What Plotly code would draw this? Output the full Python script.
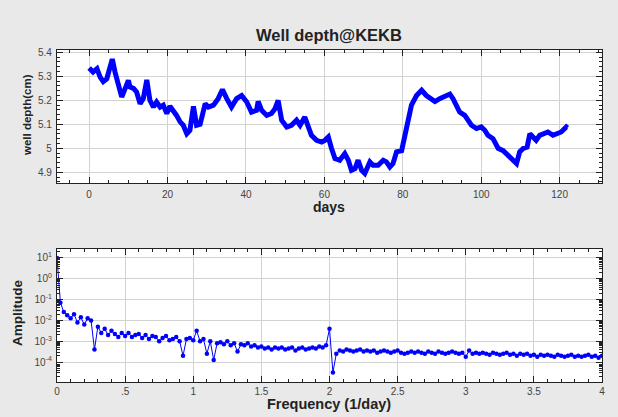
import plotly.graph_objects as go

# ---------------- data ----------------
days = [0, 1, 1.5, 2, 2.8, 3.6, 4.5, 5.3, 5.9, 6.6,
        7.5, 8.3, 9.2, 10, 10.4, 11.3, 12.1, 13, 13.8, 14.7,
        15.5, 16.4, 17.2, 18.1, 18.9, 19.8, 20.6, 21.5, 22.3, 23.2,
        24, 24.9, 25.7, 26.6, 27.4, 28.3, 29.6, 30.4, 31.7, 32.9,
        34, 35.1, 36.3, 37.6, 38.9, 40.2, 41.4, 42.7, 43.1, 44,
        45.3, 46.5, 47.4, 48.2, 49.1, 50.4, 51.6, 52.9, 53.8, 55,
        55.9, 56.7, 58, 59.3, 60.1, 61, 61.8, 62.7, 63.9, 65.2,
        66.1, 66.9, 67.8, 68.6, 69.5, 70.3, 71.6, 72.4, 73.7, 75,
        75.8, 76.7, 77.5, 78.4, 79.7, 80.5, 81.4, 82.2, 83.5, 84.8,
        86, 87.3, 88.2, 89.4, 90.7, 92, 92.8, 93.7, 94.5, 95.8,
        96.6, 97.5, 98.8, 100, 100.9, 101.7, 103, 104.3, 105.6, 106.8,
        108.1, 109, 109.8, 110.7, 111.7, 112.4, 113.2, 114, 114.9, 116.2,
        117, 118.3, 119.6, 120.4, 121.7, 122]

well_depth = [5.335, 5.318, 5.325, 5.332, 5.297, 5.278, 5.290, 5.335, 5.372, 5.318,
              5.250, 5.214, 5.250, 5.283, 5.256, 5.250, 5.235, 5.186, 5.207, 5.285,
              5.200, 5.172, 5.193, 5.172, 5.180, 5.145, 5.175, 5.158, 5.137, 5.110,
              5.096, 5.061, 5.075, 5.175, 5.096, 5.100, 5.186, 5.172, 5.180, 5.207,
              5.245, 5.207, 5.172, 5.207, 5.220, 5.193, 5.151, 5.158, 5.195, 5.158,
              5.137, 5.145, 5.165, 5.200, 5.117, 5.089, 5.096, 5.117, 5.096, 5.130,
              5.089, 5.054, 5.033, 5.026, 5.033, 5.047, 5.000, 4.957, 4.950, 4.978,
              4.950, 4.908, 4.915, 4.950, 4.908, 4.895, 4.943, 4.929, 4.929, 4.950,
              4.943, 4.922, 4.936, 4.985, 4.990, 5.054, 5.124, 5.180, 5.220, 5.242,
              5.220, 5.207, 5.195, 5.207, 5.214, 5.226, 5.207, 5.172, 5.151, 5.137,
              5.117, 5.096, 5.082, 5.089, 5.075, 5.054, 5.040, 5.000, 4.990, 4.970,
              4.950, 4.936, 4.985, 4.999, 5.005, 5.061, 5.047, 5.033, 5.054, 5.061,
              5.068, 5.054, 5.061, 5.068, 5.089, 5.085]

# FFT amplitude, stored as log10(amplitude), one value every 0.025 1/day from 0 to 4
amp_log10 = [1.0, -1.15, -1.6, -1.75, -1.9, -1.7, -2.1, -1.85, -2.2, -1.9,
             -2.0, -3.4, -2.3, -2.6, -2.4, -2.7, -2.5, -2.65, -2.8, -2.6,
             -2.75, -2.6, -2.8, -2.7, -2.65, -2.85, -2.7, -2.9, -2.75, -2.8,
             -3.0, -2.85, -2.75, -2.95, -2.9, -2.8, -3.0, -3.7, -2.9, -2.85,
             -2.95, -2.5, -3.0, -2.9, -3.6, -3.0, -3.9, -3.1, -3.05, -3.15,
             -3.0, -3.2, -3.1, -3.5, -3.15, -3.2, -3.1, -3.25, -3.2, -3.3,
             -3.25, -3.35, -3.3, -3.4, -3.3, -3.35, -3.3, -3.4, -3.35, -3.3,
             -3.45, -3.35, -3.3, -3.4, -3.35, -3.3, -3.35, -3.25, -3.3, -3.2,
             -2.4, -4.5, -3.6, -3.45, -3.5, -3.4, -3.45, -3.5, -3.45, -3.4,
             -3.5, -3.45, -3.5, -3.45, -3.55, -3.5, -3.45, -3.5, -3.55, -3.5,
             -3.45, -3.55, -3.6, -3.55, -3.5, -3.55, -3.5, -3.55, -3.6, -3.5,
             -3.55, -3.6, -3.5, -3.55, -3.6, -3.55, -3.5, -3.55, -3.6, -3.55,
             -3.75, -3.45, -3.6, -3.55, -3.6, -3.55, -3.6, -3.65, -3.55, -3.6,
             -3.65, -3.6, -3.55, -3.65, -3.6, -3.7, -3.6, -3.65, -3.6, -3.7,
             -3.65, -3.75, -3.65, -3.7, -3.65, -3.7, -3.75, -3.65, -3.7, -3.75,
             -3.7, -3.65, -3.75, -3.7, -3.75, -3.7, -3.65, -3.75, -3.7, -3.8,
             -3.7]
freq_step = 0.025
freq = [round(i * freq_step, 4) for i in range(len(amp_log10))]
amplitude = [10 ** v for v in amp_log10]

top_x_ticks = [0, 20, 40, 60, 80, 100, 120]
top_y_ticks = [4.9, 5.0, 5.1, 5.2, 5.3, 5.4]
top_y_labels = ["4.9", "5", "5.1", "5.2", "5.3", "5.4"]
bot_x_ticks = [0, 0.5, 1, 1.5, 2, 2.5, 3, 3.5, 4]
bot_x_labels = ["0", ".5", "1", "1.5", "2", "2.5", "3", "3.5", "4"]
bot_y_exp = [1, 0, -1, -2, -3, -4]

# ---------------- figure ----------------
W, H = 618, 417
BLUE = "#0000ff"
GRID = "#d2d2d2"
TICKFONT = dict(family="Liberation Sans, Arial, sans-serif", size=10, color="#444444")

fig = go.Figure()
fig.add_trace(go.Scatter(x=days, y=well_depth, mode="lines", xaxis="x", yaxis="y",
                         line=dict(color=BLUE, width=5), showlegend=False))
fig.add_trace(go.Scatter(x=freq, y=amplitude, mode="lines+markers", xaxis="x2", yaxis="y2",
                         line=dict(color=BLUE, width=1),
                         marker=dict(color=BLUE, size=4.5), showlegend=False))

def px_x(p):
    return p / W

def px_y(p):
    return 1 - p / H

common = dict(showline=True, linecolor="#222222", linewidth=1.2, mirror="ticks",
              ticks="inside", tickcolor="#222222", ticklen=6, showgrid=True,
              gridcolor=GRID, gridwidth=1, zeroline=False, tickfont=TICKFONT,
              automargin=False)

minor_log = []
for e in range(-5, 2):
    for m in range(2, 10):
        minor_log.append(m * 10 ** e)

fig.update_layout(
    width=W, height=H,
    paper_bgcolor="#e9e9e9", plot_bgcolor="#ffffff",
    margin=dict(l=0, r=0, t=0, b=0),
    xaxis=dict(domain=[px_x(57), px_x(602)], anchor="y", range=[-8.2, 130.8],
               tickmode="array", tickvals=top_x_ticks,
               minor=dict(dtick=5, ticks="inside", ticklen=3, tickcolor="#222222", showgrid=False),
               ticklabelstandoff=2, **common),
    yaxis=dict(domain=[px_y(183), px_y(50)], anchor="x", range=[4.855, 5.41],
               tickmode="array", tickvals=top_y_ticks, ticktext=top_y_labels,
               minor=dict(dtick=0.02, ticks="inside", ticklen=3, tickcolor="#222222", showgrid=False),
               ticklabelstandoff=2, **common),
    xaxis2=dict(domain=[px_x(57), px_x(602)], anchor="y2", range=[0, 4],
                tickmode="array", tickvals=bot_x_ticks, ticktext=bot_x_labels,
                minor=dict(dtick=0.1, ticks="inside", ticklen=3, tickcolor="#222222", showgrid=False),
                ticklabelstandoff=0, **common),
    yaxis2=dict(domain=[px_y(382), px_y(249)], anchor="x2", type="log", range=[-4.96, 1.43],
                tickmode="array", tickvals=[10 ** e for e in bot_y_exp],
                ticktext=["10<sup>%d</sup>" % e for e in bot_y_exp],
                minor=dict(tickmode="array", tickvals=minor_log, ticks="inside", ticklen=3,
                           tickcolor="#222222", showgrid=False),
                ticklabelstandoff=2, **common),
)

BOLD = dict(family="Liberation Sans, Arial, sans-serif", color="#222222")
ann = [
    dict(text="<b>Well depth@KEKB</b>", x=px_x(329), y=px_y(35), size=16.5, angle=0),
    dict(text="<b>days</b>", x=px_x(329), y=px_y(207), size=14, angle=0),
    dict(text="<b>Frequency (1/day)</b>", x=px_x(329), y=px_y(404), size=14.5, angle=0),
    dict(text="<b>well depth(cm)</b>", x=px_x(27), y=px_y(115), size=11.5, angle=-90),
    dict(text="<b>Amplitude</b>", x=px_x(17), y=px_y(313), size=13.5, angle=-90),
]
for a in ann:
    fig.add_annotation(text=a["text"], x=a["x"], y=a["y"], xref="paper", yref="paper",
                       xanchor="center", yanchor="middle", showarrow=False,
                       textangle=a["angle"], font=dict(size=a["size"], **BOLD))

fig.write_html("out.html", config={"displayModeBar": False},
               post_script="document.body.style.margin='0';document.body.style.overflow='hidden';")
